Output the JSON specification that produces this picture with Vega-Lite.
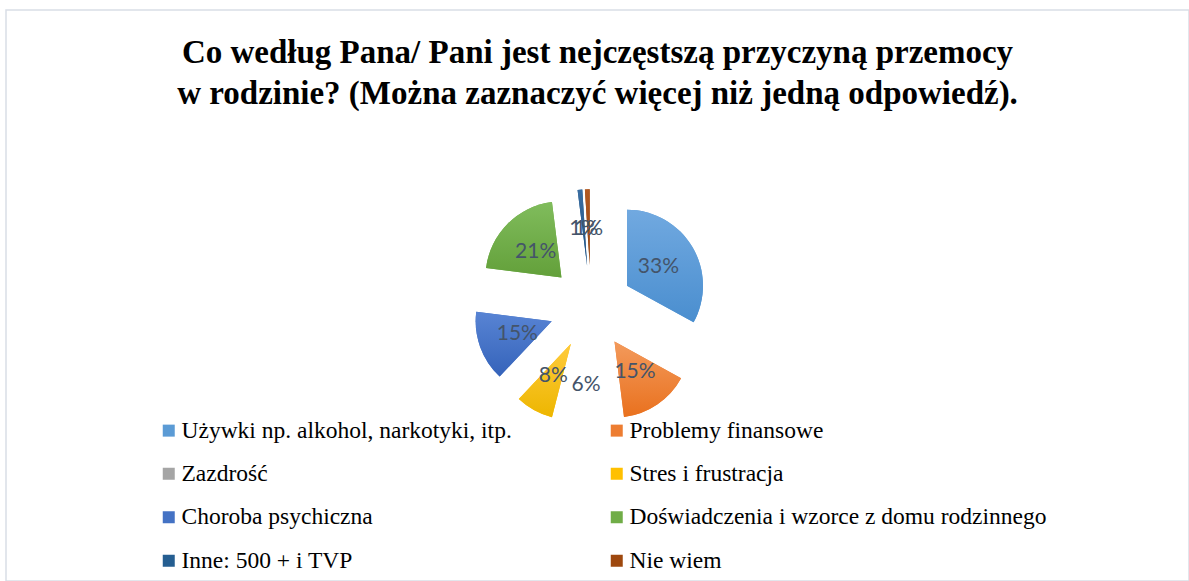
{
  "$schema": "https://vega.github.io/schema/vega-lite/v6.json",
  "width": 1183,
  "height": 571,
  "autosize": {"type": "none"},
  "padding": {"left": 6, "top": 10, "right": 0, "bottom": 0},
  "background": "white",
  "title": {
    "text": ["Co według Pana/ Pani jest nejczęstszą przyczyną przemocy", "w rodzinie? (Można zaznaczyć więcej niż jedną odpowiedź)."],
    "font": "Liberation Serif",
    "fontSize": 33,
    "fontWeight": "bold",
    "color": "black",
    "anchor": "middle",
    "frame": "group",
    "baseline": "top",
    "offset": -101,
    "lineHeight": 41
  },
  "config": {
    "view": {"stroke": "#D9DEE6", "strokeWidth": 1.5},
    "legend": {
      "orient": "none",
      "direction": "horizontal",
      "legendX": 151,
      "legendY": 408.5,
      "columns": 2,
      "symbolType": "square",
      "symbolSize": 144,
      "symbolStrokeWidth": 0,
      "labelFont": "Liberation Serif",
      "labelFontSize": 23.5,
      "labelColor": "black",
      "labelOffset": 1,
      "rowPadding": 18.5,
      "columnPadding": 93,
      "labelLimit": 600,
      "padding": 0
    }
  },
  "data": {
    "values": [
      {"cat": "Używki np. alkohol, narkotyki, itp.", "pct": 33, "order": 1},
      {"cat": "Problemy finansowe", "pct": 15, "order": 2},
      {"cat": "Zazdrość", "pct": 6, "order": 3},
      {"cat": "Stres i frustracja", "pct": 8, "order": 4},
      {"cat": "Choroba psychiczna", "pct": 15, "order": 5},
      {"cat": "Doświadczenia i wzorce z domu rodzinnego", "pct": 21, "order": 6},
      {"cat": "Inne: 500 + i TVP", "pct": 1, "order": 7},
      {"cat": "Nie wiem", "pct": 1, "order": 8}
    ]
  },
  "transform": [
    {"stack": "pct", "groupby": [], "sort": [{"field": "order", "order": "ascending"}], "as": ["t0", "t1"]},
    {"calculate": "PI * (datum.t0 + datum.t1) / 100", "as": "mid"},
    {"calculate": "0.55 * sin(datum.mid)", "as": "ex"},
    {"calculate": "0.55 * cos(datum.mid)", "as": "ey"},
    {"calculate": "1.03 * sin(datum.mid)", "as": "lx"},
    {"calculate": "1.03 * cos(datum.mid)", "as": "ly"},
    {"calculate": "datum.pct + '%'", "as": "label"}
  ],
  "layer": [
    {
      "mark": {"type": "arc", "radius": 76},
      "encoding": {
        "x": {"field": "ex", "type": "quantitative", "scale": {"domain": [-7.697, 7.868], "nice": false, "zero": false}, "axis": null},
        "y": {"field": "ey", "type": "quantitative", "scale": {"domain": [-3.605, 3.908], "nice": false, "zero": false}, "axis": null},
        "theta": {"field": "t0", "type": "quantitative", "scale": {"domain": [0, 100]}, "stack": null},
        "theta2": {"field": "t1"},
        "color": {
          "field": "cat",
          "type": "nominal",
          "scale": {
            "domain": ["Używki np. alkohol, narkotyki, itp.", "Problemy finansowe", "Zazdrość", "Stres i frustracja", "Choroba psychiczna", "Doświadczenia i wzorce z domu rodzinnego", "Inne: 500 + i TVP", "Nie wiem"],
            "range": ["#5B9BD5", "#ED7D31", "#A5A5A5", "#FFC000", "#4472C4", "#70AD47", "#255E91", "#9E480E"]
          },
          "legend": {"title": null}
        },
        "opacity": {"condition": {"test": "datum.cat === 'Zazdrość'", "value": 0}, "value": 1}
      }
    },
    {
      "mark": {"type": "arc", "radius": 76},
      "encoding": {
        "x": {"field": "ex", "type": "quantitative"},
        "y": {"field": "ey", "type": "quantitative"},
        "theta": {"field": "t0", "type": "quantitative", "stack": null},
        "theta2": {"field": "t1"},
        "fill": {
          "condition": [
            {"test": "datum.order === 1", "value": {"gradient": "linear", "x1": 0, "y1": 0, "x2": 0, "y2": 1, "stops": [{"offset": 0, "color": "#71A9E0"}, {"offset": 1, "color": "#4A8ECF"}]}},
            {"test": "datum.order === 2", "value": {"gradient": "linear", "x1": 0, "y1": 0, "x2": 0, "y2": 1, "stops": [{"offset": 0, "color": "#F39A5C"}, {"offset": 1, "color": "#E9711E"}]}},
            {"test": "datum.order === 4", "value": {"gradient": "linear", "x1": 0, "y1": 0, "x2": 0, "y2": 1, "stops": [{"offset": 0, "color": "#FFCB3D"}, {"offset": 1, "color": "#EDB600"}]}},
            {"test": "datum.order === 5", "value": {"gradient": "linear", "x1": 0, "y1": 0, "x2": 0, "y2": 1, "stops": [{"offset": 0, "color": "#5884D4"}, {"offset": 1, "color": "#3563BA"}]}},
            {"test": "datum.order === 6", "value": {"gradient": "linear", "x1": 0, "y1": 0, "x2": 0, "y2": 1, "stops": [{"offset": 0, "color": "#80BC5C"}, {"offset": 1, "color": "#63A03A"}]}},
            {"test": "datum.order === 7", "value": {"gradient": "linear", "x1": 0, "y1": 0, "x2": 0, "y2": 1, "stops": [{"offset": 0, "color": "#3A6EA2"}, {"offset": 1, "color": "#1F4F80"}]}},
            {"test": "datum.order === 8", "value": {"gradient": "linear", "x1": 0, "y1": 0, "x2": 0, "y2": 1, "stops": [{"offset": 0, "color": "#B35A22"}, {"offset": 1, "color": "#8E3F0C"}]}}
          ],
          "value": "transparent"
        }
      }
    },
    {
      "mark": {"type": "text", "font": "Lato", "fontSize": 21, "color": "#44546A", "align": "center", "baseline": "middle"},
      "encoding": {
        "x": {"field": "lx", "type": "quantitative"},
        "y": {"field": "ly", "type": "quantitative"},
        "text": {"field": "label", "type": "nominal"}
      }
    }
  ]
}
